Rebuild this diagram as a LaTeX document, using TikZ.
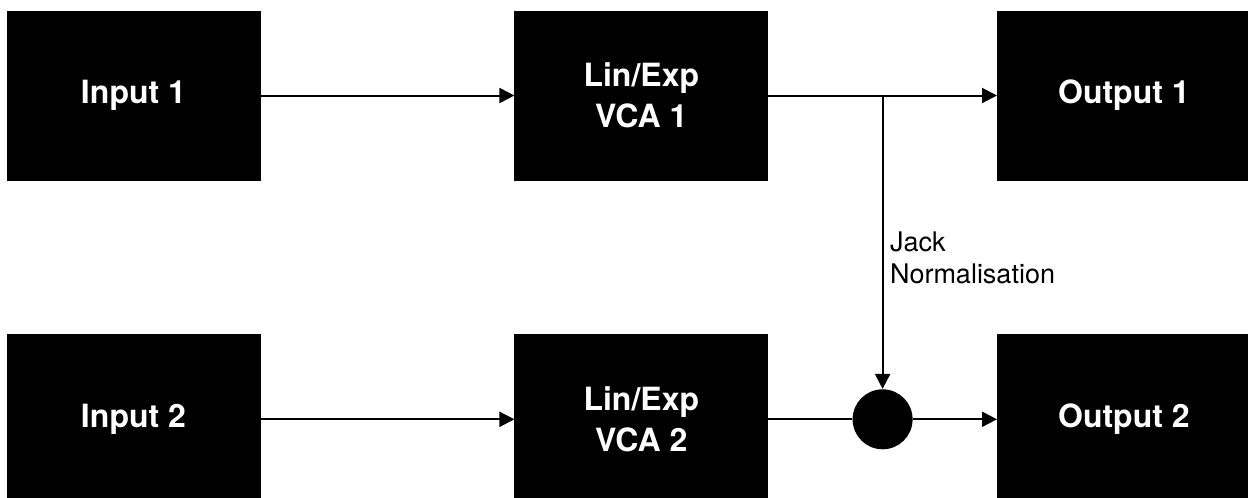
\documentclass[tikz,border=0pt]{standalone}
\usepackage{fontspec}
\setmainfont{TeX Gyre Heros}
\usetikzlibrary{positioning,arrows.meta}

\tikzset{
  block/.style={draw=black, fill=black, text=white, minimum width=126.5pt,
    minimum height=84.5pt, align=center, inner sep=0pt,
    font=\fontsize{16}{20.5}\selectfont\bfseries},
  mixer/.style={circle, fill=black, minimum size=30pt, inner sep=0pt},
  note/.style={align=left, inner sep=0pt, font=\fontsize{13.5}{16}\selectfont},
  wire/.style={line width=1pt, -{Triangle[length=7.5pt,width=7.5pt]}}
}

\begin{document}
\begin{tikzpicture}
            \useasboundingbox (0,0) rectangle (624pt,-249pt);
            \node[block] at (66.75pt,-47.75pt) (in1) {Input 1};
            \node[block, right=127pt of in1]   (vca1) {Lin/Exp\\VCA 1};
            \node[block, below=77pt of in1]    (in2) {Input 2};
            \node[block, below=77pt of vca1]   (vca2) {Lin/Exp\\VCA 2};
            \node[mixer, right=42pt of vca2]   (mix) {};
            \node[block, right=42pt of mix]    (out2) {Output 2};
            \node[block, above=77pt of out2]   (out1) {Output 1};

            \coordinate (tap) at (mix |- vca1); %
            \node[note, anchor=north west] at ([xshift=3.5pt, yshift=-68pt]tap) (jack)
            {Jack\\Normalisation};

            \draw[wire] (in1) -- (vca1);
            \draw[wire] (vca1) -- (out1);
            \draw[wire] (tap) -- (mix);
            \draw[wire] (in2) -- (vca2);
            \draw[line width=1pt] (vca2) -- (mix);
            \draw[wire] (mix) -- (out2);
        \end{tikzpicture}
\end{document}
